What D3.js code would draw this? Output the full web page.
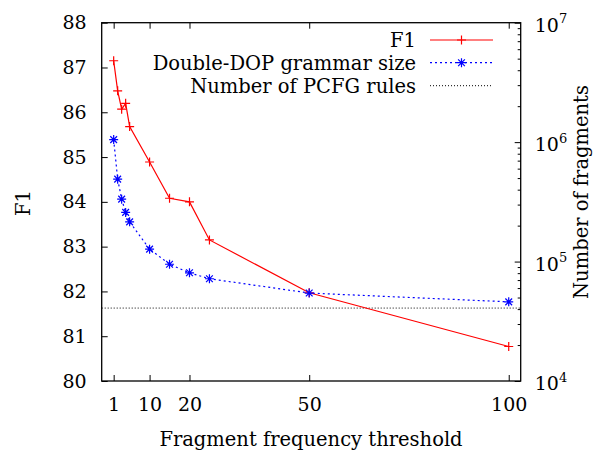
<!DOCTYPE html>
<html>
<head>
<meta charset="utf-8">
<script src="https://cdn.jsdelivr.net/npm/d3@7"></script>
<style>
body { margin: 0; background: #fff; }
</style>
</head>
<body>
<svg id="chart" width="602" height="451"></svg>
<script>
// ---- data ----
const thresholds = [1, 2, 3, 4, 5, 10, 15, 20, 25, 50, 100];
const f1Values = [87.15, 86.48, 86.07, 86.2, 85.68, 84.89, 84.08, 84.0, 83.15, 81.97, 80.77];
const grammarSize = [1050000, 490000, 333000, 258000, 215000, 127000, 95000, 80500, 71800, 54500, 46000];
const pcfgRules = 40800;
const xTickValues = [1, 10, 20, 50, 100];
const yLeftTicks = [80, 81, 82, 83, 84, 85, 86, 87, 88];
const yRightTicks = [1e4, 1e5, 1e6, 1e7];
const legendLabels = ["F1", "Double-DOP grammar size", "Number of PCFG rules"];

// ---- layout ----
const FONT = "'DejaVu Serif', serif";
const TICK_FS = 19, LAB_FS = 19.5;
const L = 101.7, R = 520.7, T = 22.7, B = 381;
const svg = d3.select("#chart");

const x = d3.scaleLinear().domain([-2, 103]).range([L, R]);
const yL = d3.scaleLinear().domain([80, 88]).range([B, T]);
const yR = d3.scaleLog().domain([1e4, 1e7]).range([B, T]);

// frame
svg.append("rect").attr("x", L).attr("y", T).attr("width", R - L).attr("height", B - T)
  .attr("fill", "none").attr("stroke", "#000").attr("stroke-width", 1.3);

function styleAxis(g) {
  g.attr("font-family", null).attr("font-size", null);
  g.select(".domain").remove();
  g.selectAll(".tick line").attr("stroke", "#000").attr("stroke-width", 1);
  g.selectAll(".tick text").style("font-family", FONT).style("font-size", TICK_FS + "px").attr("fill", "#000");
}

// left axis
svg.append("g").attr("transform", `translate(${L},0)`)
  .call(d3.axisLeft(yL).tickValues(yLeftTicks).tickSize(-6).tickPadding(15).tickFormat(d3.format("d")))
  .call(styleAxis);

// bottom axis
svg.append("g").attr("transform", `translate(0,${B})`)
  .call(d3.axisBottom(x).tickValues(xTickValues).tickSize(-6).tickPadding(17).tickFormat(d3.format("d")))
  .call(styleAxis);

// top mirror ticks
svg.append("g").attr("transform", `translate(0,${T})`)
  .call(d3.axisTop(x).tickValues(xTickValues).tickSize(-6).tickFormat(""))
  .call(styleAxis);

// right axis minor ticks
const minorTicks = [];
[1e4, 1e5, 1e6].forEach(p => { for (let k = 2; k <= 9; k++) minorTicks.push(p * k); });
svg.append("g").attr("transform", `translate(${R},0)`)
  .call(d3.axisRight(yR).tickValues(minorTicks).tickSize(-3).tickFormat(""))
  .call(styleAxis);

// right axis major ticks
const rAxis = svg.append("g").attr("transform", `translate(${R},0)`)
  .call(d3.axisRight(yR).tickValues(yRightTicks).tickSize(-6).tickPadding(14).tickFormat(""))
  .call(styleAxis);
rAxis.selectAll(".tick text").each(function(d) {
  const t = d3.select(this);
  t.text(null).attr("dy", "0.45em");
  t.append("tspan").text("10");
  t.append("tspan").attr("dy", "-0.65em").style("font-size", "13px").text(Math.round(Math.log10(d)));
});

// PCFG rules line
svg.append("line").attr("x1", L).attr("x2", R).attr("y1", yR(pcfgRules)).attr("y2", yR(pcfgRules))
  .attr("stroke", "#000").attr("stroke-width", 1).attr("stroke-dasharray", "1,2");

// F1 line
const f1Data = thresholds.map((t, i) => ({ x: t, y: f1Values[i] }));
svg.append("path").datum(f1Data)
  .attr("d", d3.line().x(d => x(d.x)).y(d => yL(d.y)))
  .attr("fill", "none").attr("stroke", "#ff0000").attr("stroke-width", 1.2);

// grammar size line
const gData = thresholds.map((t, i) => ({ x: t, y: grammarSize[i] }));
svg.append("path").datum(gData)
  .attr("d", d3.line().x(d => x(d.x)).y(d => yR(d.y)))
  .attr("fill", "none").attr("stroke", "#0000ff").attr("stroke-width", 1.2).attr("stroke-dasharray", "2,3");

const s = 4.5;
function plusPath(cx, cy) { return `M${cx - s},${cy}H${cx + s}M${cx},${cy - s}V${cy + s}`; }
function starPath(cx, cy) {
  const d = s * 0.75;
  return plusPath(cx, cy) + `M${cx - d},${cy - d}L${cx + d},${cy + d}M${cx - d},${cy + d}L${cx + d},${cy - d}`;
}

svg.append("g").selectAll("path").data(f1Data).join("path")
  .attr("d", d => plusPath(x(d.x), yL(d.y)))
  .attr("stroke", "#ff0000").attr("stroke-width", 1.2).attr("fill", "none");
svg.append("g").selectAll("path").data(gData).join("path")
  .attr("d", d => starPath(x(d.x), yR(d.y)))
  .attr("stroke", "#0000ff").attr("stroke-width", 1.2).attr("fill", "none");

// legend
const legY = [40, 62.7, 85.7];
const legend = svg.append("g");
legendLabels.forEach((lab, i) => {
  legend.append("text").attr("x", 416).attr("y", legY[i]).attr("dy", "0.35em")
    .attr("text-anchor", "end").style("font-family", FONT).style("font-size", LAB_FS + "px").text(lab);
});
legend.append("line").attr("x1", 430).attr("x2", 493).attr("y1", legY[0]).attr("y2", legY[0])
  .attr("stroke", "#ff0000").attr("stroke-width", 1.2);
legend.append("path").attr("d", plusPath(461.5, legY[0])).attr("stroke", "#ff0000").attr("stroke-width", 1.2);
legend.append("line").attr("x1", 430).attr("x2", 493).attr("y1", legY[1]).attr("y2", legY[1])
  .attr("stroke", "#0000ff").attr("stroke-width", 1.2).attr("stroke-dasharray", "2,3");
legend.append("path").attr("d", starPath(461.5, legY[1])).attr("stroke", "#0000ff").attr("stroke-width", 1.2);
legend.append("line").attr("x1", 430).attr("x2", 493).attr("y1", legY[2]).attr("y2", legY[2])
  .attr("stroke", "#000").attr("stroke-width", 1).attr("stroke-dasharray", "1,2");

// axis titles
svg.append("text").attr("transform", "translate(30,203) rotate(-90)")
  .attr("text-anchor", "middle").style("font-family", FONT).style("font-size", LAB_FS + "px").text("F1");
svg.append("text").attr("transform", "translate(588,192) rotate(-90)")
  .attr("text-anchor", "middle").style("font-family", FONT).style("font-size", LAB_FS + "px").text("Number of fragments");
svg.append("text").attr("x", 311).attr("y", 446)
  .attr("text-anchor", "middle").style("font-family", FONT).style("font-size", LAB_FS + "px").text("Fragment frequency threshold");
</script>
</body>
</html>
